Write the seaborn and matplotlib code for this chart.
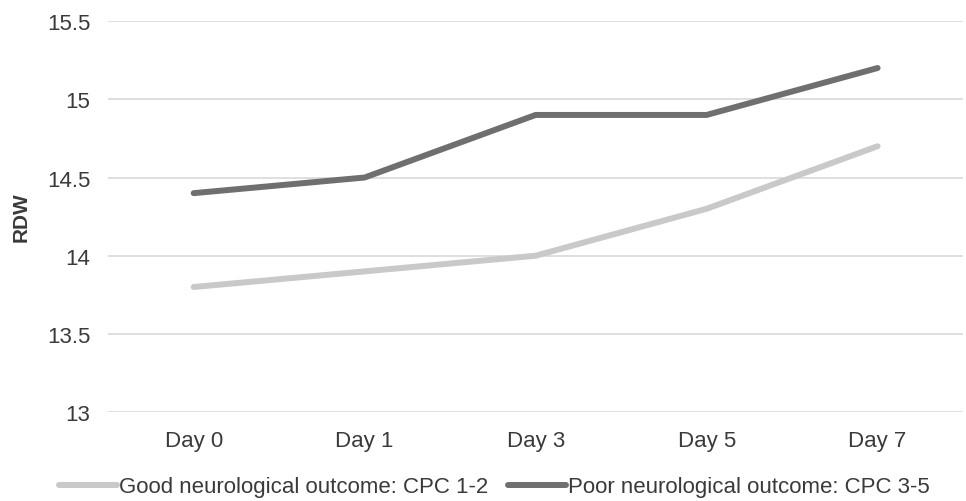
import pandas as pd
import matplotlib.pyplot as plt
import seaborn as sns

# RDW over time by neurological outcome
days = ['Day 0', 'Day 1', 'Day 3', 'Day 5', 'Day 7']
good = [13.8, 13.9, 14.0, 14.3, 14.7]
poor = [14.4, 14.5, 14.9, 14.9, 15.2]
good_label = 'Good neurological outcome: CPC 1-2'
poor_label = 'Poor neurological outcome: CPC 3-5'

df = pd.DataFrame({
    'Day': days * 2,
    'RDW': good + poor,
    'Group': [good_label] * len(days) + [poor_label] * len(days),
})

sns.set_style('white')
plt.rcParams['font.family'] = ['Liberation Sans', 'DejaVu Sans']

fig = plt.figure(figsize=(9.66, 5.02), dpi=100)
ax = fig.add_axes([0.112, 0.177, 0.885, 0.779])

sns.lineplot(data=df, x='Day', y='RDW', hue='Group',
             palette={good_label: '#c9c9c9', poor_label: '#6f6f6f'},
             linewidth=4.3, ax=ax, legend=True)

ax.set_xlim(-0.5, 4.5)
ax.set_ylim(13, 15.5)
ax.set_yticks([13, 13.5, 14, 14.5, 15, 15.5])
ax.set_yticklabels(['13', '13.5', '14', '14.5', '15', '15.5'])
ax.grid(axis='y', color='#d9d9d9', linewidth=1.2)
ax.set_axisbelow(True)
sns.despine(ax=ax, left=True, bottom=True)
ax.tick_params(axis='both', length=0, labelsize=16, labelcolor='#3a3a3a')
ax.tick_params(axis='y', pad=13)
ax.tick_params(axis='x', pad=13)
ax.set_xlabel('')
ax.set_ylabel('RDW', fontsize=15, fontweight='bold', color='#3a3a3a', va='center')
ax.yaxis.set_label_coords(-0.102, 0.5)

handles, labels = ax.get_legend_handles_labels()
ax.legend_.remove()
fig.legend(handles, labels, loc='center', bbox_to_anchor=(0.512, 0.028),
           ncol=2, frameon=False, fontsize=16, handlelength=2.6,
           handletextpad=0.1, columnspacing=0.9, labelcolor='#3a3a3a')

fig.savefig('out.png', dpi=100)
